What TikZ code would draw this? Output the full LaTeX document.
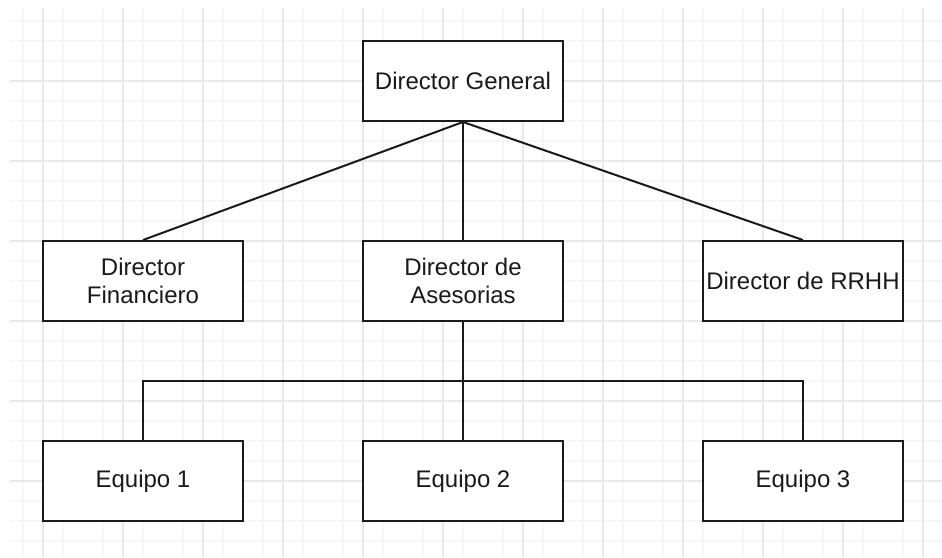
\documentclass[tikz,border=0pt]{standalone}
\usepackage{fontspec}
\setmainfont{Liberation Sans}
\usepackage{tikz}
\usetikzlibrary{positioning, arrows.meta, calc}

\definecolor{gridminor}{HTML}{F6F6F6}
\definecolor{gridmajor}{HTML}{E8E8E8}
\definecolor{ink}{HTML}{1A1A1A}

\begin{document}
\begin{tikzpicture}[x=1pt, y=-1pt, >=Stealth,
    every node/.style={align=center},
    orgbox/.style={draw=ink, line width=2pt, fill=white, minimum width=200pt,
        minimum height=80pt, inner sep=0pt, text=ink,
        font=\fontsize{24pt}{27.6pt}\selectfont},
    link/.style={draw=ink, line width=2pt}]
    \useasboundingbox (0,0) rectangle (942,557);
    \fill[white] (0,0) rectangle (942,557);
    % Grid
    \foreach \gx in {23,63,...,943}
        \draw[gridminor, line width=1.2pt] (\gx,8) -- (\gx,557);
    \foreach \gy in {21,41,61,101,121,141,181,201,221,261,281,301,341,361,381,421,441,461,501,521,541}
        \draw[gridminor, line width=1.2pt] (10,\gy) -- (942,\gy);
    \foreach \gx in {43,123,...,923}
        \draw[gridmajor, line width=1.6pt] (\gx,8) -- (\gx,557);
    \foreach \gy in {81,161,...,481}
        \draw[gridmajor, line width=1.6pt] (10,\gy) -- (942,\gy);
    % Top level
    \node[orgbox] (dg) at (463,81) {Director General};
    % Directors
    \node[orgbox] (df) at (143,281) {Director\\Financiero};
    \node[orgbox] (da) at (463,281) {Director de\\Asesorias};
    \node[orgbox] (dr) at (803,281) {Director de RRHH};
    % Teams
    \node[orgbox] (e1) at (143,481) {Equipo 1};
    \node[orgbox] (e2) at (463,481) {Equipo 2};
    \node[orgbox] (e3) at (803,481) {Equipo 3};
    % Links to directors
    \draw[link] (dg.south) -- (df.north);
    \draw[link] (dg.south) -- (da.north);
    \draw[link] (dg.south) -- (dr.north);
    % Links to teams
    \coordinate (bus) at (463,381);
    \draw[link] (da.south) -- (bus);
    \draw[link] (e1.north) |- (bus) -| (e3.north);
    \draw[link] (bus) -- (e2.north);
\end{tikzpicture}
\end{document}
